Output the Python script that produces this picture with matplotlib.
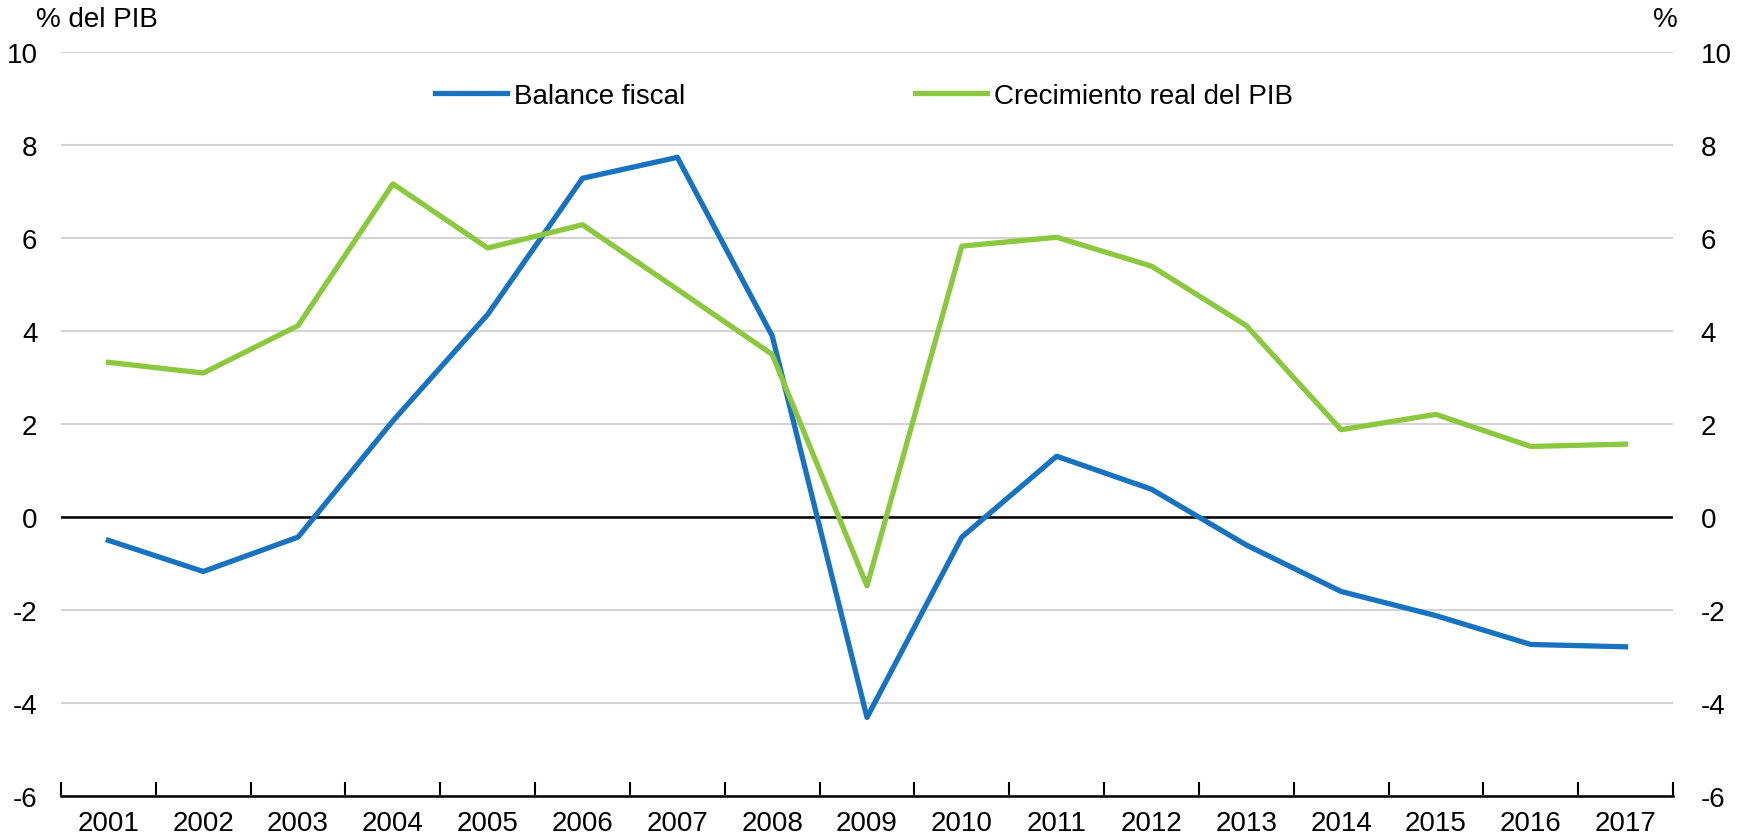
import matplotlib
matplotlib.use("Agg")
import matplotlib.pyplot as plt
import numpy as np

years = [str(y) for y in range(2001, 2018)]
balance_fiscal = [-0.5, -1.17, -0.43, 2.07, 4.36, 7.29, 7.74, 3.9, -4.31, -0.43, 1.31, 0.6, -0.6, -1.6, -2.12, -2.74, -2.79]
crecimiento_pib = [3.33, 3.1, 4.12, 7.17, 5.79, 6.29, 4.9, 3.5, -1.48, 5.83, 6.02, 5.4, 4.12, 1.88, 2.21, 1.52, 1.57]
yticks = [-6, -4, -2, 0, 2, 4, 6, 8, 10]

plt.rcParams['font.family'] = ['Liberation Sans', 'DejaVu Sans']
plt.rcParams['axes.unicode_minus'] = False

BLUE = '#1772c0'
GREEN = '#8cc83f'
FS = 20

fig = plt.figure(figsize=(17.44, 8.37), dpi=100)
ax = fig.add_axes([61/1744, 1-797/837, (1673-61)/1744, (797-53.3)/837])

x = np.arange(len(years))
ax.set_xlim(-0.5, len(years)-0.5)
ax.set_ylim(-6, 10)
ax.set_yticks(yticks)
ax.grid(axis='y', color='#d3d3d3', lw=1.5)
ax.set_axisbelow(True)
ax.axhline(0, color='black', lw=1.8, zorder=2)

l1, = ax.plot(x, balance_fiscal, color=BLUE, lw=3.8, label='Balance fiscal', zorder=3)
l2, = ax.plot(x, crecimiento_pib, color=GREEN, lw=3.8, label='Crecimiento real del PIB', zorder=3)

for s in ['top', 'left', 'right']:
    ax.spines[s].set_visible(False)
ax.spines['bottom'].set_linewidth(1.8)

ax.set_xticks(x)
ax.set_xticklabels(years, fontsize=FS)
ax.set_xticks(np.arange(-0.5, len(years), 1.0), minor=True)
ax.tick_params(axis='x', which='major', length=0, pad=10)
ax.tick_params(axis='x', which='minor', length=10, width=1.5, direction='in')
ax.tick_params(axis='y', length=0, labelsize=FS, pad=17)

ax2 = ax.twinx()
ax2.set_ylim(-6, 10)
ax2.set_yticks(yticks)
ax2.tick_params(axis='y', length=0, labelsize=FS, pad=20)
for s in ['top', 'left', 'right', 'bottom']:
    ax2.spines[s].set_visible(False)

fig.text(36/1744, 1-20/837, '% del PIB', fontsize=FS, ha='left', va='center')
fig.text(1665/1744, 1-20/837, '%', fontsize=FS, ha='center', va='center')

leg1 = fig.legend(handles=[l1], loc='center left', bbox_to_anchor=(410/1744, 1-97/837),
                  frameon=False, fontsize=FS, handlelength=2.6, handletextpad=0.25)
leg2 = fig.legend(handles=[l2], loc='center left', bbox_to_anchor=(890/1744, 1-97/837),
                  frameon=False, fontsize=FS, handlelength=2.6, handletextpad=0.25)

fig.savefig('out.png', dpi=100)
